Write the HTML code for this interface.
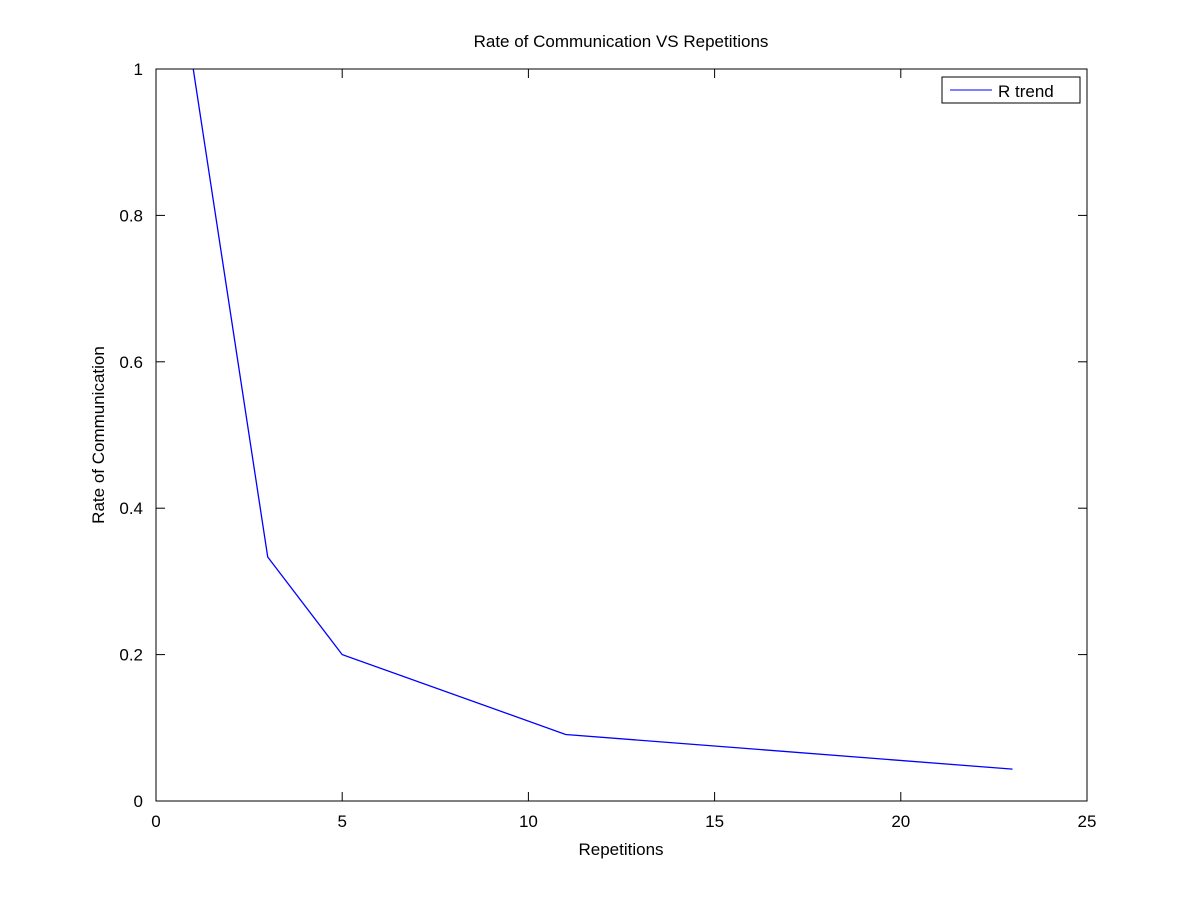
<!DOCTYPE html>
<html><head><meta charset="utf-8"><style>
body{margin:0;background:#fff;}
svg text{font-family:"Liberation Sans",sans-serif;fill:#000;}
</style></head><body>
<svg id="chart" width="1200" height="902" xmlns="http://www.w3.org/2000/svg">
<rect width="1200" height="902" fill="#fff"/>
<text x="621" y="47" font-size="17" text-anchor="middle">Rate of Communication VS Repetitions</text>
<text x="621" y="855" font-size="17" text-anchor="middle">Repetitions</text>
<text transform="translate(104,435) rotate(-90)" font-size="17" text-anchor="middle">Rate of Communication</text>
<g id="axes"></g>
<rect x="156" y="69" width="931" height="732" fill="none" stroke="#000" stroke-width="1"/>
<g>
<rect x="942" y="77" width="138" height="26" fill="#fff" stroke="#000"/>
<line x1="950" y1="90" x2="992" y2="90" stroke="#0000ff"/>
<text x="998" y="97" font-size="17">R trend</text>
</g>
</svg>
<script>
const xVals=[1,3,5,11,23];
const yVals=[1,0.3333,0.2,0.0909,0.0435];
const xTicks=[0,5,10,15,20,25];
const yTicks=[0,0.2,0.4,0.6,0.8,1];
const X0=156,X1=1087,Y0=801,Y1=69;
function sx(v){return X0+(v-0)/(25-0)*(X1-X0);}
function sy(v){return Y0-(v-0)/(1-0)*(Y0-Y1);}
const ns="http://www.w3.org/2000/svg";
const g=document.getElementById('axes');
function mk(t,a){const e=document.createElementNS(ns,t);for(const k in a)e.setAttribute(k,a[k]);g.appendChild(e);return e;}
xTicks.forEach(v=>{
  const x=sx(v);
  mk('line',{x1:x,y1:Y0,x2:x,y2:Y0-9,stroke:'#000'});
  mk('line',{x1:x,y1:Y1,x2:x,y2:Y1+9,stroke:'#000'});
  const t=mk('text',{x:x,y:Y0+26,'font-size':17,'text-anchor':'middle'});
  t.textContent=v;
  
  
});
yTicks.forEach(v=>{
  const y=sy(v);
  mk('line',{x1:X0,y1:y,x2:X0+9,y2:y,stroke:'#000'});
  mk('line',{x1:X1,y1:y,x2:X1-9,y2:y,stroke:'#000'});
  const t=mk('text',{x:X0-13,y:y+6,'font-size':17,'text-anchor':'end'});
  t.textContent=v;
  
  
});
const pts=xVals.map((x,i)=>sx(x)+','+sy(yVals[i])).join(' ');
const line=mk('polyline',{points:pts,fill:'none',stroke:'#0000ff','stroke-width':1.3});


</script>
</body></html>
